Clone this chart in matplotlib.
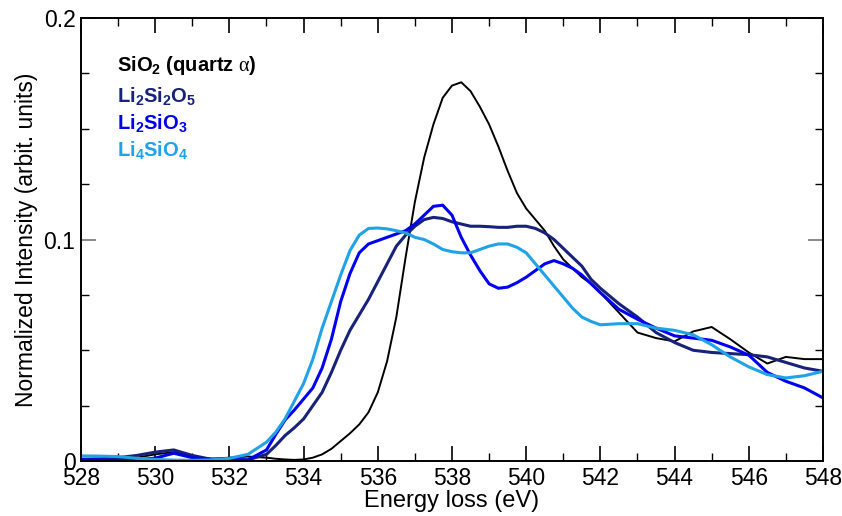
#!/usr/bin/env python3

import numpy as np
import matplotlib
matplotlib.use('Agg')
import matplotlib.pyplot as plt

plt.rcParams['font.family'] = ['Liberation Sans', 'DejaVu Sans']
plt.rcParams['mathtext.fontset'] = 'custom'
plt.rcParams['mathtext.rm'] = 'Liberation Serif'
plt.rcParams['mathtext.bf'] = 'Liberation Sans:bold'
plt.rcParams['mathtext.it'] = 'Liberation Serif:italic'

# energy grid (eV), finer through the edge region
energy = [528, 528.5, 529, 529.5, 530, 530.5, 531, 531.5, 532, 532.5, 533,
          533.25, 533.5, 533.75, 534, 534.25, 534.5, 534.75, 535, 535.25, 535.5, 535.75,
          536, 536.25, 536.5, 536.75, 537, 537.25, 537.5, 537.75, 538, 538.25, 538.5, 538.75,
          539, 539.25, 539.5, 539.75, 540, 540.25, 540.5, 540.75, 541, 541.25, 541.5, 541.75, 542,
          542.5, 543, 543.5, 544, 544.5, 545, 545.5, 546, 546.5, 547, 547.5, 548]

sio2 = [0.0005, 0.0008, 0.001, 0.0015, 0.003, 0.004, 0.002, 0.001, 0.0015, 0.002, 0.0015,
        0.001, 0.0007, 0.0005, 0.0007, 0.0015, 0.003, 0.0055, 0.009, 0.0125, 0.0165, 0.022,
        0.031, 0.045, 0.065, 0.092, 0.117, 0.137, 0.152, 0.164, 0.1695, 0.171, 0.167, 0.16,
        0.152, 0.142, 0.131, 0.121, 0.114, 0.109, 0.104, 0.097, 0.091, 0.087, 0.083, 0.080, 0.076,
        0.067, 0.058, 0.0555, 0.054, 0.0585, 0.0605, 0.055, 0.049, 0.044, 0.047, 0.046, 0.046]

li2si2o5 = [0.0008, 0.001, 0.0015, 0.0025, 0.004, 0.005, 0.0025, 0.0008, 0.0003, 0.0005, 0.003,
            0.007, 0.0115, 0.015, 0.019, 0.025, 0.031, 0.040, 0.050, 0.059, 0.066, 0.073,
            0.081, 0.089, 0.097, 0.102, 0.106, 0.109, 0.110, 0.1095, 0.108, 0.107, 0.106, 0.106,
            0.1058, 0.1055, 0.1055, 0.106, 0.106, 0.105, 0.103, 0.100, 0.096, 0.092, 0.088, 0.082, 0.078,
            0.071, 0.065, 0.058, 0.0535, 0.050, 0.049, 0.0485, 0.048, 0.047, 0.0445, 0.042, 0.0405]

li2sio3 = [0.0005, 0.0005, 0.0003, 0.0005, 0.0013, 0.0035, 0.0015, 0.0008, 0.0008, 0.0005, 0.005,
           0.012, 0.0185, 0.023, 0.028, 0.033, 0.042, 0.055, 0.072, 0.0846, 0.094, 0.098,
           0.0995, 0.101, 0.1025, 0.104, 0.107, 0.111, 0.115, 0.1155, 0.111, 0.101, 0.093, 0.086,
           0.080, 0.078, 0.0785, 0.0805, 0.083, 0.086, 0.089, 0.0905, 0.089, 0.087, 0.084, 0.080, 0.076,
           0.0685, 0.064, 0.060, 0.0565, 0.0555, 0.0545, 0.0515, 0.0478, 0.040, 0.036, 0.033, 0.0285]

li4sio4 = [0.0023, 0.0022, 0.002, 0.0012, 0.0007, 0.0004, 0.0003, 0.0005, 0.0012, 0.003, 0.0085,
           0.013, 0.019, 0.027, 0.035, 0.046, 0.060, 0.072, 0.084, 0.095, 0.102, 0.105,
           0.1052, 0.1048, 0.104, 0.103, 0.101, 0.100, 0.098, 0.0955, 0.0945, 0.094, 0.094, 0.0955,
           0.097, 0.098, 0.098, 0.0965, 0.094, 0.089, 0.084, 0.079, 0.074, 0.069, 0.065, 0.063, 0.0615,
           0.062, 0.062, 0.060, 0.059, 0.057, 0.0525, 0.047, 0.0425, 0.039, 0.0375, 0.0385, 0.0405]

labels = [r'SiO$_\mathbf{2}$ (quartz $\mathrm{\alpha}$)',
          r'Li$_\mathbf{2}$Si$_\mathbf{2}$O$_\mathbf{5}$',
          r'Li$_\mathbf{2}$SiO$_\mathbf{3}$',
          r'Li$_\mathbf{4}$SiO$_\mathbf{4}$']
label_y = [0.893, 0.823, 0.762, 0.701]
colors = ['black', '#18227a', '#0000f0', '#1fa2e6']
widths = [1.4, 2.2, 2.2, 2.2]
x_ticks = [528, 530, 532, 534, 536, 538, 540, 542, 544, 546, 548]
y_ticks = [0, 0.1, 0.2]
y_ticklabels = ['0', '0.1', '0.2']

fig = plt.figure(figsize=(8.42, 5.16), dpi=100)
ax = fig.add_axes([0.0962, 0.1066, 0.8812, 0.8584])

for series, c, lw in zip([sio2, li2si2o5, li2sio3, li4sio4], colors, widths):
    ax.plot(energy, series, color=c, lw=lw, solid_joinstyle='round')

ax.set_xlim(528, 548)
ax.set_ylim(0, 0.2)
ax.set_xticks(x_ticks)
ax.set_xticks(np.arange(529, 548, 2), minor=True)
ax.set_yticks(y_ticks)
ax.set_yticklabels(y_ticklabels)
ax.set_yticks([0.025, 0.05, 0.075, 0.125, 0.15, 0.175], minor=True)

ax.tick_params(which='both', direction='in', top=True, right=True, labelsize=16.5, pad=4)
ax.tick_params(which='major', length=11, width=1.2)
ax.tick_params(which='minor', length=6, width=1.0)
ax.tick_params(axis='y', which='major', color='#777777')
for s in ax.spines.values():
    s.set_linewidth(1.4)

ax.set_xlabel('Energy loss (eV)', fontsize=17, labelpad=0)
ax.set_ylabel('Normalized Intensity (arbit. units)', fontsize=16.5, labelpad=4)

for lab, c, yy in zip(labels, colors, label_y):
    ax.text(0.048, yy, lab, transform=ax.transAxes, color=c,
            fontsize=14.5, fontweight='bold', va='center', ha='left')

fig.savefig('out.png', dpi=100)
